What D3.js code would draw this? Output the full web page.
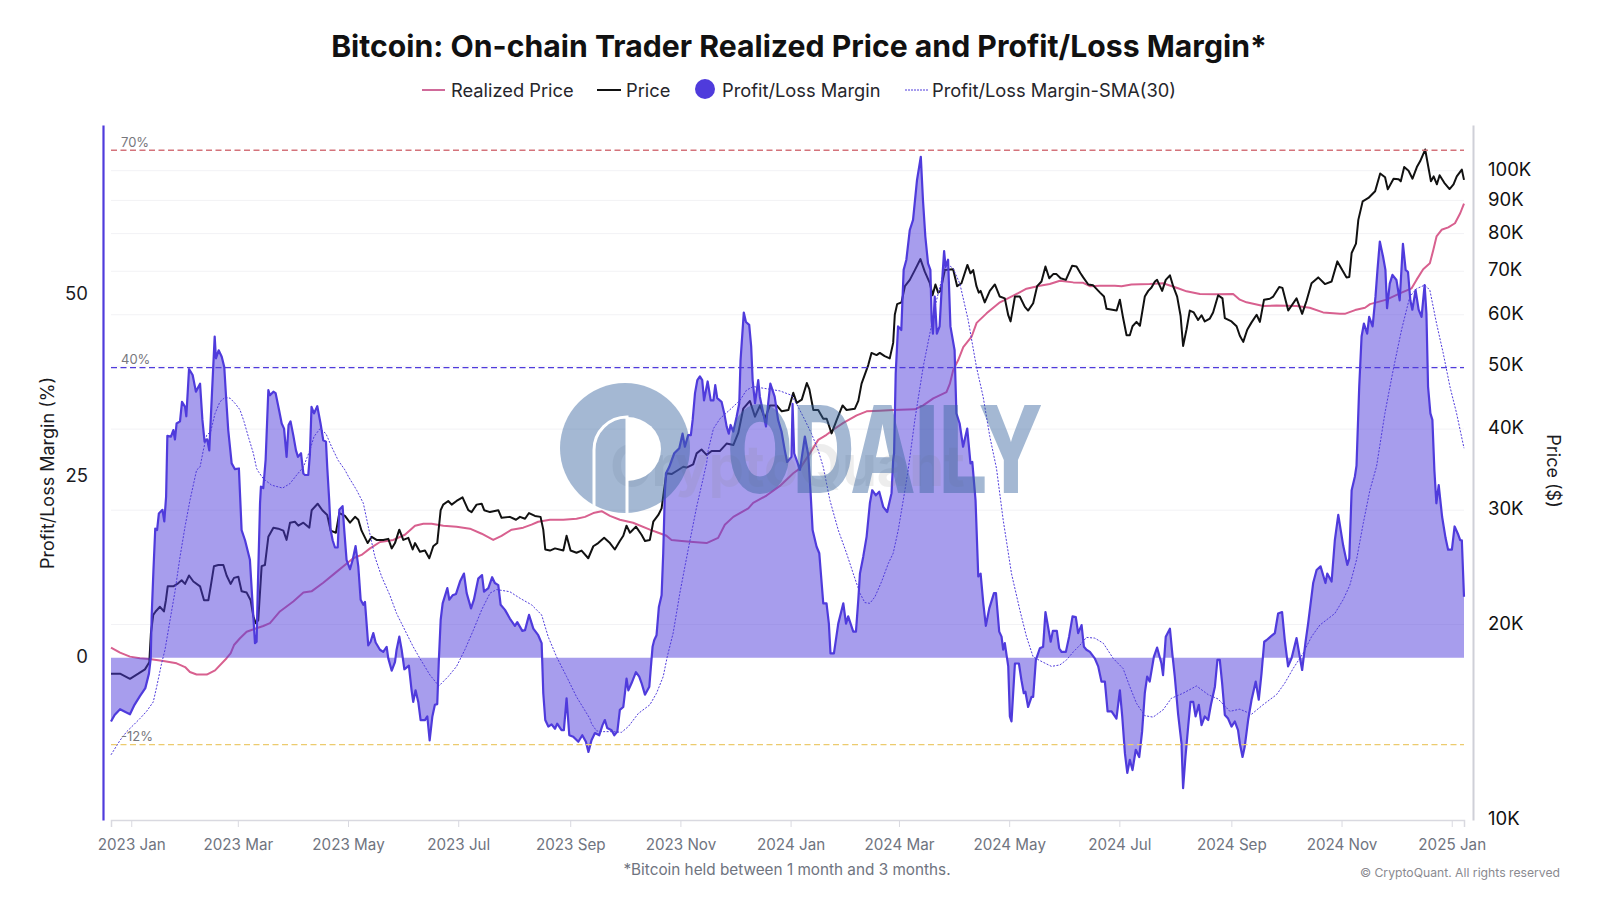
<!DOCTYPE html>
<html>
<head>
<meta charset="utf-8">
<script src="https://cdn.jsdelivr.net/npm/d3@7"></script>
<style>
  body { margin: 0; background: #fff; }
  text { font-family: Inter, "Noto Sans", sans-serif; }
</style>
</head>
<body>
<div id="container"></div>
<script>
// all series are [days since firstDay, value]
const firstDay = new Date(2022, 11, 20, 19);
const lastDayOffset = 749;

// profit/loss margin, %
const margin = [[0,-8.8],[2,-7.9],[5,-7.1],[8,-7.5],[10.5,-7.8],[13,-6.5],[16,-5.3],[19,-4.2],[21,-2.2],[22,-0.1],[22.5,5.7],[23.5,12.1],[24.5,17.8],[25.5,17.6],[26.5,19.9],[28.5,20.4],[29.5,18.8],[30.5,22.2],[31.2,30.6],
[33.2,30.5],[34.5,31.4],[35.4,30.1],[36.3,32.3],[38.2,32.6],[39.3,35.3],[41,34.6],[41.7,33.3],[43.2,39.8],[45.2,39],[47,36.7],[49.3,37.8],[50.6,32.8],[51.8,29.8],[53.3,30.1],[54.4,28.6],[55.9,36.5],[57.4,44.3],[58.1,41.3],[59.6,42.4],[61.3,41.5],[62.7,40.1],[63.7,36],[64.9,31.4],[66.8,26.8],[68.6,26],[70.8,26.1],[72.3,17.6],[74.2,16.2],[76.9,13.5],[78.8,5.7],[79.7,2],[80.6,2.2],[81.2,8.9],[82.5,21.3],[83,23.6],[84.3,23.4],[85.6,27.3],[87.1,36.9],[88,36.2],[89.9,36.7],[91.1,36.5],[93,34.2],[94.5,32.3],[95.8,31.6],[97.2,27.7],[98.3,32.1],[99.4,32.6],[100.9,30.7],[102.4,28.6],[103.5,27.7],[105.2,28.2],[106.5,25.4],[107.4,25.2],[109.2,25.2],[110.1,28],[111,34.6],[112.4,33.7],[114.2,34.7],[116,32.3],[117.5,30],[119,29.8],[119.7,26.3],[120.8,21.7],[121.6,17.6],[122.7,16.2],[124,15.2],[125.5,15.2],[126.4,20.4],[128.2,20.9],[129,18],[130.4,13.5],[132.3,12.2],[133.8,13.5],[135.4,15.4],[136.9,12.6],[138.2,8],[139.7,7.3],[140.6,7.7],[141.5,4.7],[142.4,1.7],[143.7,2.2],[145.2,3.4],[146.5,2.1],[148.9,1.1],[150.7,0.8],[152.6,1.5],[153.5,-0.1],[155.4,-1.8],[157.2,-0.6],[158.1,1.1],[159.6,2.9],[160.9,1.1],[162.4,-1.6],[164.9,-1.1],[166.4,-4.5],[167.3,-6.1],[168.6,-4.5],[170.1,-6.1],[171.4,-8.6],[173.8,-8.6],[175.1,-8.1],[176.4,-11.4],[177.9,-8.1],[179.3,-6.5],[180.6,-6.4],[181.5,-0.3],[182.5,5.2],[183.6,7.5],[186.2,9.6],[187.3,8],[189.1,8.6],[191,8.8],[193.2,10.5],[195.4,11.6],[196.9,8.9],[199.3,6.8],[200.9,8],[203.3,10.9],[205.4,11.4],[206.5,9.1],[208.9,9.6],[211,11.1],[212.5,10.3],[214.4,10],[215.7,7.3],[218.1,6.6],[220.8,5.4],[223.6,4.4],[224.9,4.9],[227.7,3.7],[229.2,3.8],[231.4,5.9],[233.8,4],[236.5,3.1],[238.4,2],[239.3,-4.9],[240.4,-8.6],[242.1,-9.5],[243.9,-9.2],[245.8,-9.8],[247,-9.1],[249.4,-10],[250.7,-10],[252.2,-5.6],[253.7,-10.7],[255.9,-10.9],[258.7,-11.6],[260.9,-10.7],[262.9,-11.6],[264.3,-13],
[266,-11.4],[267.9,-10.4],[270.3,-10.7],[272.1,-9.3],[273.4,-8.6],[274.7,-9.7],[277.1,-10],[278.6,-10.7],[280.3,-10.2],[281.7,-7.2],[283.6,-6.8],[284.5,-4.9],[285.4,-2.9],[286.4,-4.5],[288.2,-3.5],[290.6,-2],[292.4,-2.6],[293.7,-3.5],[295.6,-5.1],[298,-4],[298.9,-1.2],[299.8,1.5],[300.7,2.4],[302,3.1],[303.3,7],[304.8,8.6],[305.7,14.4],[306.6,22.7],[307.2,25.4],
[309,26.3],[311.8,28.2],[314.6,28.9],[316.4,30.9],[317.7,29.1],[319.5,30.7],[321,30.7],[322,32.8],[323.3,36.5],[324.6,38.3],[326,38.8],[327.3,38.3],[328.3,35.5],[330.3,38.1],[332,35.5],[333.5,35.5],[334.5,37.6],[335.6,35.8],[338,35.3],[339.5,33.7],[340.8,31.9],[342,30.9],[343,32.1],[344.5,31.2],[346.3,33.2],[347.8,35.1],[348.5,41],[350.3,47.6],[351.5,46.3],[353.3,45.9],[354.4,42.9],[355.2,38.3],[356.5,35.1],[358.3,38.3],[359.2,36],[360.7,34.2],[362.6,31.9],[363.8,35.1],[365,37.8],[367.4,36],[369.3,32.8],[371.2,31.2],[373,28.6],[374.3,27],[376.7,27.7],[377.3,35],[378.2,28.2],[379.9,27],[381.4,25.9],[384.1,30.5],[386,28],[387.3,22.7],[388.4,17.6],[390.6,15.3],[392.1,14.4],[394.3,7.5],[396.1,7.5],[397.4,4.7],[398.3,0.6],[400.2,0.6],[402.6,4.7],[405.4,7.5],[406.9,4.7],[408.1,5.7],[410.9,3.6],[412.4,3.6],[413.7,8],[414.6,11.6],[416.4,13.9],[418.3,16.7],[420.1,21.3],[421.4,23.1],[423.4,22.4],[425.3,22.9],[427.5,20.8],[429.7,20.1],[432.1,22.7],[433,27.3],
[433.5,28.2],[434.4,39.2],[435.7,45.7],[437.5,45.2],[438.8,53.5],[440.3,54.9],[442.2,59],[444,60.4],[446.2,65.9],[448.3,69.1],[449.5,63.1],[450.8,58.1],[452.3,54.4],[453.6,53.5],[454.3,46.6],[455,44.7],[456,49.8],[457.2,44.7],[458.7,45.7],[460,51.6],[461.2,56.1],[462,53.9],[463.4,54.9],[464.7,45.7],[467,42.4],[468,33.7],[469.8,32.3],[471.7,29.1],[474,31.6],[475.8,26.8],[476.8,27],[478.6,21.7],[480.1,11.2],[481.4,11.6],[482.9,7.5],[484.3,4.4],[486.2,6.8],[488.8,8.9],[489.9,8.9],[491.7,3.6],[493,2.9],[493.9,1.1],[494.8,2],[496.7,-1.2],[497.6,-8.1],[498.5,-8.8],[500.4,-0.8],[502.6,-0.8],[504,-3.1],[505.3,-4.9],[506.2,-4.7],[507.7,-6.8],[509.6,-5.4],[510.5,-5.4],[512,-0.3],[514.2,1.3],[516,1.5],[517.3,6.3],[520.2,2.2],[521.4,3.7],[523.6,3.7],[524.9,1.3],
[526.2,0.8],[528.6,0.8],[530.4,2.9],[532.3,5.7],[534.1,5.6],[535.4,3.4],[537.3,4.5],[538.6,1.5],[540,1.1],[541.9,0.8],[544.6,-0.1],[546.5,-1.2],[548.3,-3.3],[550.2,-3.3],[551.7,-7.4],[553.9,-7.4],[556.6,-8.4],[558.5,-4.5],[559.8,-8.1],[561.3,-13.2],[562.6,-15.9],[564,-14.1],[565.5,-15.5],[567.3,-12.7],[569.2,-13.7],[570.8,-10.2],[572.3,-4.9],[573.6,-2.6],[575,-3.3],[577.3,0.1],[579.1,1.4],[581.5,-0.8],[582.4,-2.4],[583.9,2.9],[586.2,4],[587.6,0.4],[588.9,-2.6],[590.7,-7.7],[592.6,-11.8],[593.5,-18],[594.8,-13.7],[596.3,-9.5],[597.6,-6.1],[599.1,-6.1],[600.4,-8.1],[602.2,-6.5],[603.7,-9.3],[605.5,-8.1],[607.4,-8.6],[608.9,-6.5],[611.1,-4],[612.5,-0.3],[613.8,-0.3],[615.1,-3.5],[616.6,-7.9],[618.4,-8.4],[620.3,-9.5],[622.1,-8.8],[623.9,-10],[624.9,-11.8],[626.4,-13.7],[627.6,-12.3],[629.5,-8.6],[631.4,-5.8],[633.7,-3.3],[635.4,-5.8],[636.9,-2.2],[638.4,2.2],[639.6,2.4],[642.4,3],[644.3,3.4],[646.1,6.1],[648.3,6.3],[649.8,2.4],[651.6,-1.2],[653.5,-0.1],[656.3,2.7],[658.1,0.1],[659.4,-1.7],[661.3,2.2],[662.7,4.7],[665.5,10.3],[667.4,12.1],[669.6,12.6],[672.3,10.3],[673.3,11.6],[675.7,10.5],[677.5,16.2],[679.4,19.7],[682.1,15.5],[684.4,12.8],[685.5,13.7],[686.8,23.1],[688.6,25],[689.5,26.5],
[691,37.4],[692.3,44.3],[693.6,46.1],[695.4,44.7],[696.5,47],[698.4,45.7],[700,49.8],[701.1,53.5],[702.4,57.4],[704.2,55.3],[705.5,53.5],[706.4,48.2],[707.9,51.6],[709.4,52.8],[711.6,52.1],[713.4,49.3],[715.2,57.1],[716.7,53.5],[718,53.2],[719.3,49.3],[720.4,48],[722.2,50.7],[723.9,48],[725.5,47],[727.2,51.4],[728.2,47.5],[729.1,37.4],[730.4,33.7],[731.5,32.8],[732.6,25.9],[733.7,21.3],[735,23.8],[736.9,19.4],[738.8,16.5],[740.2,14.9],[742.3,14.9],[743.8,18.1],[745.6,17.1],[746.9,16.2],[747.8,16.2],[749,8.4]];

// 30-day moving average of the margin, %
const marginSma = [[0,-13.4],[5,-11.4],[8.7,-10.2],[12.4,-9.3],[16,-8.4],[19.7,-7.4],[23.4,-6.1],[25.3,-4],[28,-0.8],[29.9,1.1],[32.7,5.2],[35.4,9.1],[38.2,13.9],[41,18.1],[43.7,21.7],[47.4,25.9],[49.3,26.3],[51.1,28.6],[53,30.7],[55.2,31.2],[57.6,33.7],[60.3,35.3],[63.1,35.9],[65.9,35.8],[68.6,35.1],[71.4,34.2],[73.6,32.6],[76,30.5],[78.8,28.2],[80.6,26.1],[81.5,25.7],[84.3,24.7],[88.9,23.8],[95,23.4],[99,24],[102.8,25.2],[106.5,26.3],[110.1,28.6],[112.4,30.5],[115.7,31.6],[119,30.9],[122.1,29.1],[125.8,27.2],[129.5,25.9],[131.4,25],[136,23.1],[139.7,21.3],[142.4,18.1],[146.1,13.9],[149.8,11.2],[154.4,8.6],[158.1,6.1],[162.7,3.8],[167.3,1.5],[171,-0.1],[176.6,-2.4],[181.5,-3.9],[186.7,-2.6],[191.3,-1.2],[195.9,1.1],[200.6,3.8],[205.2,6.6],[209.8,8.9],[213.5,9.4],[220.8,9.1],[226.4,8.2],[232.8,7.3],[238.4,5.9],[242,2.9],[246.7,0.1],[252.2,-2.6],[257.7,-5.4],[265.1,-8.4],[266,-9.1],[268.8,-10.1],[272.5,-10.2],[278,-10.2],[282.6,-10.3],[286.4,-9.5],[291.9,-7.7],[298.3,-6.5],[302,-4.9],[305.7,-2.6],[307.9,0.1],[311.2,3.4],[314.9,8.9],[319.5,14.9],[324.2,20.8],[329.7,26.8],[330.6,28.6],[333.5,31.6],[337.2,33],[342.6,34.2],[348.2,35.5],[351.8,36.9],[355.5,37.4],[362.9,37.1],[370.3,36.8],[376.7,36.2],[380.4,34.6],[384.1,32.8],[387.8,30.9],[391.5,28.6],[394.3,26.3],[398,21.7],[402.6,17.6],[407.2,14.4],[410.9,11.6],[414.6,8.9],[417.3,7.6],[420.1,7.5],[422.9,8.4],[426.6,10.5],[430.3,13],[433,14.4],[435.8,17.6],[439.5,23.1],[441.3,25.9],[445,32.8],[449.6,40.1],[453.3,44.7],[457,49.3],[460.7,53],[462.5,54.4],[466.2,53.7],[469.9,51.6],[474.5,46.6],[479.1,40.1],[482.8,36],[486.5,30.5],[490.2,26.1],[493.9,19],[498.5,11.6],[503.1,6.6],[506.8,2.9],[510.5,0.1],[514.2,-0.4],[520.6,-1.2],[525.3,-1],[529,-0.3],[532.7,0.8],[536.3,1.7],[540,2.8],[544.6,2.7],[549.3,2],[554.8,-0.1],[560.3,-1.5],[564,-4],[567.7,-6.3],[572.3,-8],[576.9,-8.2],[582.4,-7.2],[587,-5.6],[593.5,-4.9],[600.9,-3.9],[607.4,-5.1],[612.9,-5.7],[619.4,-7.4],[624.9,-7.1],[631.4,-7.8],[637.7,-6.5],[645.2,-5.1],[649.8,-3.5],[654.4,-1.5],[659.9,0.6],[664.6,2.9],[669.2,4.5],[677.5,6.1],[682.1,8],[685.8,10],[689.5,13.5],[693.2,18.5],[696.9,23.1],[700.6,26.4],[705.2,33.7],[709.8,39.7],[714.4,45.2],[719,49.8],[722.7,50.9],[727.3,51.4],[730.1,50.7],[733.8,46.1],[737.5,42],[741.2,37.4],[744.9,33.7],[749,28.9]];

// bitcoin price, $K
const price = [[0,16.8],[5,16.8],[10.5,16.5],[15.1,16.8],[18.8,17.06],[21.2,17.5],[22.1,19.4],[23.4,20.7],[24.7,20.95],[27.1,21.3],[29.3,20.95],[30.4,21.8],[31.4,22.9],[34.5,22.9],[36.7,23.1],[39.1,23.4],[41,23.1],[43.2,23.8],[45.6,23.3],[49.3,22.9],[51.5,21.8],[53.9,21.8],[55.2,22.9],[57,24.6],[59.4,24.7],[62.2,24.7],[64,23.8],[66.2,23.1],[68.1,23.6],[70.5,23.7],[72.3,22.5],[75.1,22.4],[77.3,21.8],[78.8,20.6],[80.1,20.1],[81.5,20.3],[83.4,24.6],[85.2,24.7],[87.1,27.3],[89.9,28.2],[92.6,28.1],[95.4,27.9],[97.2,27],[99.1,28.7],[101.8,28.8],[103.7,28.4],[106.5,28.7],[109.8,28.2],[111.1,30],[114.4,30.7],[117,30],[119.7,29.5],[121.6,27.9],[124.5,27.7],[126.4,29.7],[129.5,29.4],[132.3,28.7],[135.1,29.3],[136.9,29],[138.7,27.9],[142.1,26.7],[144.3,27.3],[147,27],[150.7,27],[153.5,27.1],[155.4,26.2],[157.2,26.7],[159.6,28],[161.8,27],[164.6,27.2],[167,26.1],[168.3,26.7],[171,25.9],[173.8,26],[176.2,25.3],[178.4,26.4],[180.6,26.7],[182.5,30],[183.9,30.6],[186.7,31],[188.6,30.6],[191.3,31],[194.6,31.4],[197.8,30],[199.6,29.8],[202.4,30.6],[205.2,30.7],[206.6,30],[209.8,29.8],[214.4,30],[216.2,29.2],[220.8,29.3],[224.2,29],[226.4,29.3],[229.2,29.1],[231.4,29.7],[234.7,29.4],[237.8,29.3],[239.3,28],[240.4,26.1],[243,26],[245.8,26.2],[250.4,26],[252.2,27.4],[254.4,26],[257.7,25.8],[260.5,26],[264.2,25.3],
[267,26.4],[269.7,26.7],[273,27.2],[276.2,26.7],[278.9,26.1],[281.7,26.9],[283.6,27.4],[285.4,28.4],[287.3,27.7],[290.6,28.3],[293.7,27.5],[295.6,26.9],[298.3,27],[300.2,28.8],[303,29.5],[304.8,30.2],[306,32],[307.5,34.2],[310.3,34.1],[314,34.6],[316.8,35],[318.6,34.9],[322.3,35.3],[324.2,36.7],[326.9,37.2],[329.7,36.5],[332.5,37],[337,37],[340.8,38],[344.5,37.8],[347.3,39.5],[350,43],[353.7,44.2],[356.5,41.8],[359.3,43.5],[362,41.5],[364.8,43.5],[368.5,43.5],[371.3,42.6],[375,42.8],[377.7,45.5],[379.6,43.9],[382.4,44.4],[385.2,47.1],[386.6,46.1],[388.8,42.8],[391.5,42.8],[394.3,41.5],[396.2,41.5],[398.9,39.4],[401.7,41.3],[405,43.5],[407.2,42.8],[411.8,43],[413.7,44.2],[415.5,47],[419.2,50.2],[421,52.4],[423.8,52],[425.6,52.4],[428.3,51.8],[431.1,51.4],[433,54.3],[433.9,60],[435.2,62.3],[437.6,62.7],[439.5,66.4],[442.2,67.9],[445,70.3],[448.1,73.1],[450.5,69.9],[453.3,67.1],[454.8,64.3],[456.4,66.8],[457.9,64.9],[459.2,65.3],[461.6,70.3],[466.2,70.5],[468.4,66.4],[470.8,67.1],[474.1,71.6],[475.8,69.5],[477.3,70.3],[479.1,66.4],[480.4,64.9],[481.4,65.3],[483.7,62.7],[486.5,65.3],[489.3,66.8],[492,64],[494.8,63.6],[496.7,59.9],[498,58.6],[500.4,64],[503.1,64],[505.9,61.7],[507.7,60.9],[510.5,62.5],[512.7,66.4],[515.1,67.5],[517.3,71.2],[519.4,68.3],[521.6,69.3],[523.4,69.3],[525.7,68.3],[528.6,67.9],[532.1,71.4],[534.5,71.2],[536.7,69.5],[538.2,68.5],[541,66.8],[543.7,66.6],[547.5,64.9],[549.7,64],[551.1,61.3],[556.7,60.9],[558.5,63.3],[560.3,59.3],[562.2,55.8],[564,55.8],[565.5,57.6],[567.7,58.5],[569.6,57.7],[572.3,64],[574.2,65.3],[576,66.1],[577.9,67.5],[579.1,67.9],[581.9,65.3],[583.9,67.9],[586.2,69],[588,66.4],[590.2,64],[592.1,59.8],[593.5,53.7],[595.4,57],[597.2,60.9],[599.4,60.5],[601.8,58.9],[603.7,59.9],[605.5,58.6],[608.3,59.2],[610.1,60.5],[612.9,64.3],[615.3,63.6],[616.6,59.3],[620.3,58.6],[623.1,57.6],[624.9,55.7],[626.8,54.5],[629,56.9],[631.4,58.4],[634.2,60],[636,58.5],[638.3,63.3],[641.5,63.5],[643.4,64],[646.7,66.2],[648.5,66],[651.7,60.9],[656.3,63.6],[659.4,60.2],[661.8,63],[664.6,67.1],[668.3,68.5],[672,66.9],[675.7,67.5],[678.9,72.5],[681.6,70.3],[684,68.5],[685.5,68.6],[686.8,74.7],[689.2,77.2],[690.5,84],[692.9,89.7],[696.1,90.8],[699.8,93],[702.6,99],[705.3,97.7],[706.8,93.6],[710,97.2],[712.8,97],[714,96.3],[715.9,101.3],[718.3,100],[720.5,97.2],[722.9,101.3],[724.7,103.4],[727.5,107.8],[730.7,96.3],[732.2,98],[734,95.3],[735.5,98.4],[738.1,95.8],[741,93.7],[743.2,95.3],[745,98],[747.8,100.4],[749,96.8]];

// on-chain trader realized price, $K
const realizedPrice = [[0,18.43],[5,18.1],[10.5,17.85],[16,17.75],[21.2,17.7],[29,17.58],[36.3,17.43],[41,17.2],[43.7,16.9],[47.4,16.75],[53,16.75],[57.6,17],[64,17.75],[66.2,18.05],[68.1,18.6],[71.4,19.05],[75.1,19.5],[79.7,19.7],[84.3,19.9],[88,20.1],[93.5,20.95],[100.9,21.7],[106.5,22.4],[111,22.5],[117.5,23.2],[124,24],[129.5,24.7],[134.1,25.3],[138.7,25.6],[143.4,26.2],[148.9,26.8],[156.3,27],[162.7,27.5],[168.3,28.4],[172.9,28.6],[177.5,28.6],[184,28.4],[191.3,28.3],[198.7,28.1],[205.2,27.6],[211.6,27],[216.2,27.4],[221.8,28],[228.2,28.2],[232.8,28.5],[236.5,28.8],[243,29],[250.4,29],[257.7,29.1],[262.4,29.3],[267,29.7],[271.6,29.9],[276.2,29.4],[281.7,29],[289,28.7],[298.3,28],[303,27.7],[307.5,27.4],[310.3,27],[315.9,26.9],[322.3,26.8],[329.7,26.7],[336.1,27.2],[339.8,28.5],[344.5,29.3],[352.8,30.2],[355.5,30.8],[362.9,31.6],[370.3,32.7],[377.7,34.2],[381.4,34.8],[386.9,36.7],[391.5,38.5],[396.1,39.2],[399.8,39.9],[405.4,40.9],[412.8,42],[418.3,42.6],[425.6,42.7],[433,42.8],[445,42.9],[449.6,43.5],[455.2,44.6],[462.5,45.6],[464.4,47],[466.2,49.3],[469,51.1],[471.8,53.5],[476.4,55.5],[479.2,58.3],[484.7,60.3],[492.1,62.7],[499.5,64.2],[506.8,65.8],[514.2,66.5],[519.7,66.9],[525.3,67.7],[532.7,67.3],[538.2,67.2],[541.9,66.4],[547.4,66.5],[555.7,66.5],[559.4,66.4],[564.9,66.8],[575,66.9],[582.4,67.1],[590.7,65.9],[595.4,65.2],[602.8,64.6],[612,64.5],[621.2,64.6],[624.9,63.3],[628.6,62.7],[637.9,61.9],[645.2,62],[656.3,61.9],[663.6,61.5],[671,60.5],[680.3,60.2],[683,60.2],[688.7,61],[694.2,61.5],[697,62.3],[706.1,63.3],[714.4,64.9],[720,65.9],[722.7,67.9],[726.4,70.5],[730.1,72],[732,75.5],[733.8,79.2],[736.6,81.1],[740.3,81.8],[744,83],[746.9,86],[749,89]];

const dateTicks = [new Date(2023,0,1),new Date(2023,2,1),new Date(2023,4,1),new Date(2023,6,1),new Date(2023,8,1),new Date(2023,10,1),new Date(2024,0,1),new Date(2024,2,1),new Date(2024,4,1),new Date(2024,6,1),new Date(2024,8,1),new Date(2024,10,1),new Date(2025,0,1)];
const marginTicks = [0, 25, 50];
const priceTicks = [10, 20, 30, 40, 50, 60, 70, 80, 90, 100];
const thresholds = [
  { value: 70, label: "70%", color: "#d4737b" },
  { value: 40, label: "40%", color: "#4f3bdc" },
  { value: -12, label: "-12%", color: "#eccb6e" }
];

const width = 1600;
const height = 900;
const plotLeft = 111, plotRight = 1464, plotTop = 125, plotBottom = 820;
const violet = "#4f3bdc";

const toDate = d => new Date(+firstDay + d * 864e5);

const x = d3.scaleTime()
  .domain([toDate(0), toDate(lastDayOffset)])
  .range([plotLeft, plotRight]);
const yMargin = d3.scaleLinear()
  .domain([-22.39, 73.48])
  .range([plotBottom, plotTop]);
const yPrice = d3.scaleLog()
  .domain([10, 117.6])
  .range([plotBottom, plotTop]);

const svg = d3.select("#container").append("svg")
  .attr("width", width)
  .attr("height", height)
  .style("display", "block");

// grid comes from the price axis
svg.append("g").selectAll("line")
  .data(priceTicks.slice(1))
  .enter().append("line")
  .attr("x1", plotLeft).attr("x2", plotRight)
  .attr("y1", d => yPrice(d)).attr("y2", d => yPrice(d))
  .attr("stroke", "#f2f2f5");

const axisBottom = svg.append("g")
  .attr("transform", "translate(0," + plotBottom + ")")
  .call(d3.axisBottom(x).tickValues(dateTicks).tickSize(7).tickPadding(12).tickFormat(d3.timeFormat("%Y %b")));
axisBottom.select(".domain").attr("stroke", "#d9d9e0").attr("stroke-width", 1.5);
axisBottom.selectAll("line").attr("stroke", "#d9d9e0");
axisBottom.selectAll("text").attr("fill", "#6f7480").attr("font-size", 15.2).attr("font-family", "Inter");

const axisLeft = svg.append("g")
  .attr("transform", "translate(103,0)")
  .call(d3.axisLeft(yMargin).tickValues(marginTicks).tickSize(0).tickPadding(15));
axisLeft.select(".domain").attr("stroke", violet).attr("stroke-width", 2.2);
axisLeft.selectAll("text").attr("fill", "#1b1b1f").attr("font-size", 18.5).attr("font-family", "Inter").attr("dy", 4.6);

const axisRight = svg.append("g")
  .attr("transform", "translate(1473,0)")
  .call(d3.axisRight(yPrice).tickValues(priceTicks).tickSize(0).tickPadding(15).tickFormat(d => d + "K"));
axisRight.select(".domain").attr("stroke", "#cfd0d8").attr("stroke-width", 2);
axisRight.selectAll("text").attr("fill", "#111").attr("font-size", 18.5).attr("font-family", "Inter").attr("dy", 4.6);

// lines under the area, that is how they read in the picture
const priceLine = d3.line().x(d => x(toDate(d[0]))).y(d => yPrice(d[1]));
const marginLine = d3.line().x(d => x(toDate(d[0]))).y(d => yMargin(d[1]));
const marginArea = d3.area().x(d => x(toDate(d[0]))).y0(yMargin(0)).y1(d => yMargin(d[1]));

svg.append("path").datum(realizedPrice)
  .attr("d", priceLine).attr("fill", "none")
  .attr("stroke", "#d8608f").attr("stroke-width", 2).attr("stroke-linejoin", "round");
svg.append("path").datum(price)
  .attr("d", priceLine).attr("fill", "none")
  .attr("stroke", "#111").attr("stroke-width", 2).attr("stroke-linejoin", "round");

svg.append("path").datum(margin)
  .attr("d", marginArea).attr("fill", violet).attr("fill-opacity", 0.5);
svg.append("path").datum(margin)
  .attr("d", marginLine).attr("fill", "none")
  .attr("stroke", violet).attr("stroke-width", 2.2).attr("stroke-linejoin", "round");
svg.append("path").datum(marginSma)
  .attr("d", marginLine).attr("fill", "none")
  .attr("stroke", violet).attr("stroke-width", 1).attr("stroke-dasharray", "2 1.5");

thresholds.forEach(t => {
  svg.append("line")
    .attr("x1", plotLeft).attr("x2", plotRight)
    .attr("y1", yMargin(t.value)).attr("y2", yMargin(t.value))
    .attr("stroke", t.color).attr("stroke-width", 1.3).attr("stroke-dasharray", "6 3.5");
  svg.append("text")
    .attr("x", 121).attr("y", yMargin(t.value) - 3.5)
    .attr("font-size", 13).attr("fill", "#77777d")
    .text(t.label);
});

// watermarks
svg.append("text")
  .attr("x", 610).attr("y", 486)
  .attr("font-size", 56).attr("font-weight", 700)
  .attr("fill", "#888").attr("opacity", 0.14)
  .text("CryptoQuant");

const mark = svg.append("g").attr("opacity", 0.45);
mark.append("circle")
  .attr("cx", 625).attr("cy", 448).attr("r", 65)
  .attr("fill", "#37649f");
mark.append("text")
  .attr("x", 727).attr("y", 492)
  .attr("font-size", 118).attr("font-weight", 700)
  .attr("font-family", "Liberation Sans")
  .attr("textLength", 315).attr("lengthAdjust", "spacingAndGlyphs")
  .attr("fill", "#37649f")
  .attr("stroke", "#37649f").attr("stroke-width", 2)
  .text("ODAILY");
svg.append("path")
  .attr("d", "M627,417 A34,32 0 0 1 627,481 Z")
  .attr("fill", "#fff");
svg.append("path")
  .attr("d", "M594,511 V450 A33,33 0 0 1 627,417 V513")
  .attr("fill", "none").attr("stroke", "#fff").attr("stroke-width", 3);

// title and legend
svg.append("text")
  .attr("x", 799).attr("y", 57)
  .attr("text-anchor", "middle")
  .attr("font-size", 30.2).attr("font-weight", 700).attr("fill", "#111")
  .text("Bitcoin: On-chain Trader Realized Price and Profit/Loss Margin*");

const legendY = 90;
const legendLines = [
  { x1: 422, x2: 445, color: "#d06a9a", dash: null, width: 2 },
  { x1: 597, x2: 621, color: "#111", dash: null, width: 2 },
  { x1: 905, x2: 928, color: violet, dash: "2 1", width: 1 }
];
const legendLabels = [
  { x: 451, text: "Realized Price" },
  { x: 626, text: "Price" },
  { x: 722, text: "Profit/Loss Margin" },
  { x: 932, text: "Profit/Loss Margin-SMA(30)" }
];
svg.append("g").selectAll("line")
  .data(legendLines)
  .enter().append("line")
  .attr("x1", d => d.x1).attr("x2", d => d.x2)
  .attr("y1", legendY).attr("y2", legendY)
  .attr("stroke", d => d.color)
  .attr("stroke-width", d => d.width)
  .attr("stroke-dasharray", d => d.dash);
svg.append("circle")
  .attr("cx", 705).attr("cy", legendY - 1).attr("r", 10)
  .attr("fill", violet);
svg.append("g").selectAll("text")
  .data(legendLabels)
  .enter().append("text")
  .attr("x", d => d.x).attr("y", legendY + 6.5)
  .attr("font-size", 18.3).attr("fill", "#26262b")
  .text(d => d.text);

// axis titles and footer
svg.append("text")
  .attr("transform", "translate(54,473) rotate(-90)")
  .attr("text-anchor", "middle")
  .attr("font-size", 18).attr("fill", "#1b1b1f")
  .text("Profit/Loss Margin (%)");
svg.append("text")
  .attr("transform", "translate(1547,471) rotate(90)")
  .attr("text-anchor", "middle")
  .attr("font-size", 18).attr("fill", "#1b1b1f")
  .text("Price ($)");
svg.append("text")
  .attr("x", 787).attr("y", 875)
  .attr("text-anchor", "middle")
  .attr("font-size", 15.3).attr("fill", "#6f7480")
  .text("*Bitcoin held between 1 month and 3 months.");
svg.append("text")
  .attr("x", 1560).attr("y", 877)
  .attr("text-anchor", "end")
  .attr("font-size", 12.2).attr("fill", "#8a8a90")
  .text("© CryptoQuant. All rights reserved");
</script>
</body>
</html>
